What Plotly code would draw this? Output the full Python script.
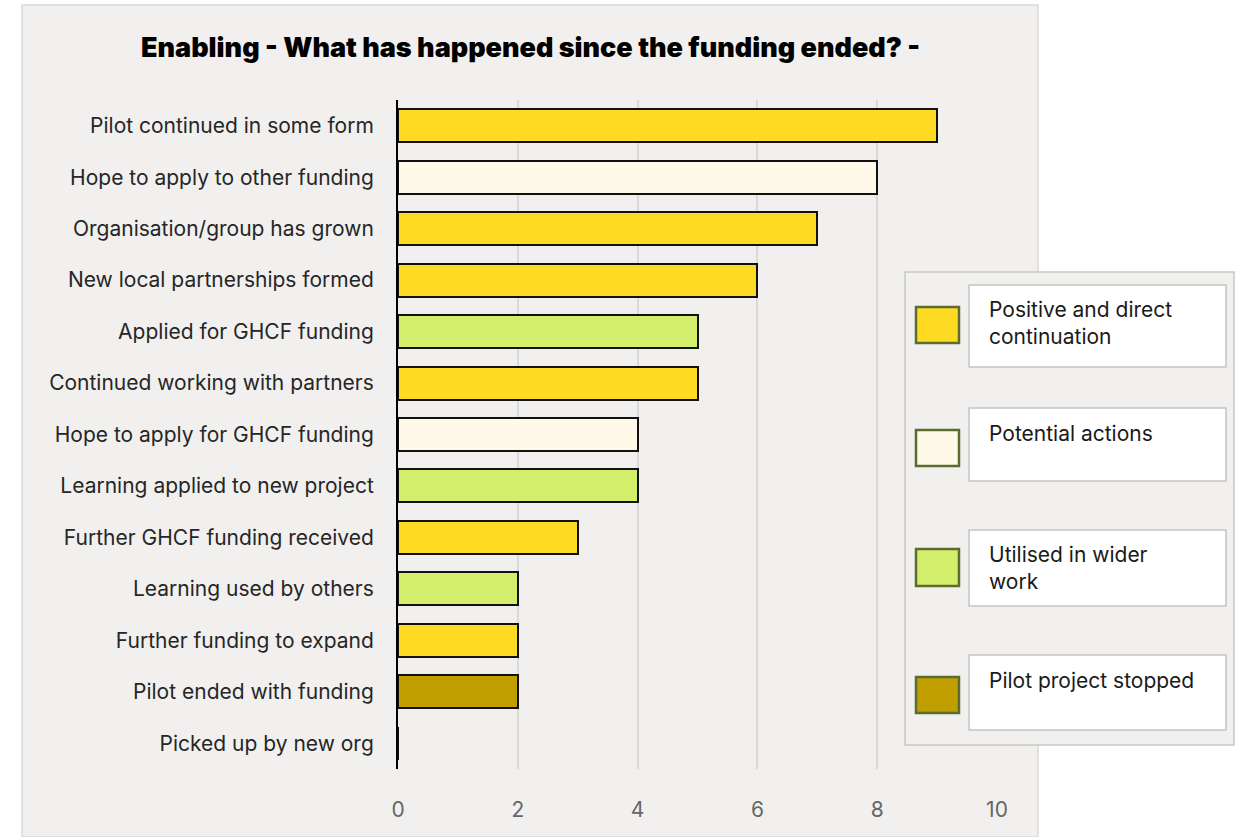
import plotly.graph_objects as go

# Outcomes after the funding ended, top to bottom
categories = [
    "Pilot continued in some form",
    "Hope to apply to other funding",
    "Organisation/group has grown",
    "New local partnerships formed",
    "Applied for GHCF funding",
    "Continued working with partners",
    "Hope to apply for GHCF funding",
    "Learning applied to new project",
    "Further GHCF funding received",
    "Learning used by others",
    "Further funding to expand",
    "Pilot ended with funding",
    "Picked up by new org",
]
counts = [9, 8, 7, 6, 5, 5, 4, 4, 3, 2, 2, 2, 0]
groups = [
    "Positive and direct continuation",
    "Potential actions",
    "Positive and direct continuation",
    "Positive and direct continuation",
    "Utilised in wider work",
    "Positive and direct continuation",
    "Potential actions",
    "Utilised in wider work",
    "Positive and direct continuation",
    "Utilised in wider work",
    "Positive and direct continuation",
    "Pilot project stopped",
    "Pilot project stopped",
]
group_names = [
    "Positive and direct continuation",
    "Potential actions",
    "Utilised in wider work",
    "Pilot project stopped",
]
group_labels = [
    "Positive and direct<br>continuation",
    "Potential actions",
    "Utilised in wider<br>work",
    "Pilot project stopped",
]
group_colors = ["#FEDA22", "#FEF9E8", "#D3EE6B", "#C19E00"]
x_ticks = [0, 2, 4, 6, 8, 10]

W, H = 1238, 837
FONT = "Inter, Noto Sans, sans-serif"


def px(x):
    return x / W


def py(y):
    return 1 - y / H


fig = go.Figure()
for name, color in zip(group_names, group_colors):
    ys = [c for c, g in zip(categories, groups) if g == name]
    xs = [v for v, g in zip(counts, groups) if g == name]
    fig.add_trace(go.Bar(
        x=xs, y=ys, orientation="h", name=name,
        marker=dict(color=color, line=dict(color="#111111", width=2)),
        showlegend=False,
    ))

shapes = [
    # chart panel
    dict(type="rect", xref="paper", yref="paper", layer="below",
         x0=px(22), x1=px(1038), y0=py(837), y1=py(5),
         fillcolor="#F1F0EE", line=dict(color="#D9D9D9", width=1.5)),
    # legend panel
    dict(type="rect", xref="paper", yref="paper", layer="above",
         x0=px(905), x1=px(1234), y0=py(745), y1=py(272),
         fillcolor="#F1F0EE", line=dict(color="#C8C8C8", width=1.5)),
]
annotations = []

swatch_y = [(307, 343), (430, 466), (549, 586), (677, 713)]
box_y = [(285, 367), (408, 481), (530, 606), (655, 730)]
text_top = [295, 419, 540, 666]
for i, (lab, col) in enumerate(zip(group_labels, group_colors)):
    sy0, sy1 = swatch_y[i]
    by0, by1 = box_y[i]
    shapes.append(dict(type="rect", xref="paper", yref="paper", layer="above",
                       x0=px(916), x1=px(959), y0=py(sy1), y1=py(sy0),
                       fillcolor=col, line=dict(color="#5C6B2E", width=2.5)))
    shapes.append(dict(type="rect", xref="paper", yref="paper", layer="above",
                       x0=px(969), x1=px(1226), y0=py(by1), y1=py(by0),
                       fillcolor="#FFFFFF", line=dict(color="#C4C4C4", width=1.5)))
    annotations.append(dict(xref="paper", yref="paper", x=px(987), y=py(text_top[i]),
                            xanchor="left", yanchor="top", align="left",
                            text=lab, showarrow=False,
                            font=dict(family=FONT, size=21, color="#1A1A1A")))

annotations.append(dict(xref="paper", yref="paper", x=px(530), y=py(48),
                        xanchor="center", yanchor="middle", showarrow=False,
                        text="Enabling - What has happened since the funding ended? -",
                        font=dict(family="Inter, sans-serif", size=27, weight=900,
                                  color="#000000")))

fig.update_layout(
    width=W, height=H,
    margin=dict(l=0, r=0, t=0, b=0),
    paper_bgcolor="#FFFFFF",
    plot_bgcolor="rgba(0,0,0,0)",
    barmode="stack",
    bargap=0.36,
    shapes=shapes,
    annotations=annotations,
    xaxis=dict(
        domain=[px(398), px(997)],
        range=[0, 10],
        tickvals=x_ticks,
        showgrid=True, gridcolor="#D9D9D9", gridwidth=1.5,
        zeroline=False, showline=False,
        tickfont=dict(family=FONT, size=21, color="#666666"),
        ticklabelstandoff=26,
        automargin=False,
    ),
    yaxis=dict(
        domain=[py(769), py(100)],
        categoryorder="array", categoryarray=categories,
        autorange="reversed",
        showgrid=False, zeroline=False,
        showline=True, linecolor="#000000", linewidth=2,
        tickfont=dict(family=FONT, size=21, color="#262626"),
        ticklabelstandoff=18,
        automargin=False,
    ),
)

fig.write_html("out.html")
